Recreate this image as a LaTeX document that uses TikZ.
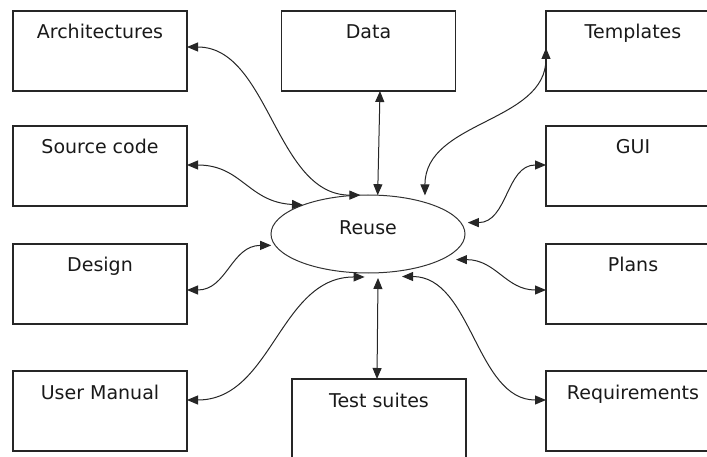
\documentclass[tikz,border=0pt]{standalone}
\usepackage{fontspec}
\setmainfont{DejaVu Sans}
\usetikzlibrary{arrows.meta,shapes.geometric}
\tikzset{
  itembox/.style={draw=black!85, line width=1.2pt, rectangle, minimum width=174pt, minimum height=80pt, inner sep=0pt, outer sep=0pt,
     label={[boxtext,anchor=base,yshift=-28pt]north:#1}},
  boxtext/.style={font=\fontsize{19pt}{22pt}\selectfont, text=black!90},
  dbl/.style={draw=black!85, line width=1pt, {Triangle[length=11pt,width=9pt]}-{Triangle[length=11pt,width=9pt]}},
}
\begin{document}
\begin{tikzpicture}[x=1pt,y=-1pt]
\useasboundingbox (0,0) rectangle (707,457);
\clip (0,0) rectangle (707,457);
% boxes
\node[itembox={Architectures}] (arch) at (100,51) {};
\node[itembox={Source code}] (src) at (100,166) {};
\node[itembox={Design}] (design) at (100,284) {};
\node[itembox={User Manual}] (manual) at (100,411) {};
\node[itembox={Data}] (data) at (368.5,51) {};
\node[itembox={Test suites}] (test) at (379,419) {};
\node[itembox={Templates}] (tmpl) at (633,51) {};
\node[itembox={GUI}] (gui) at (633,166) {};
\node[itembox={Plans}] (plans) at (633,284) {};
\node[itembox={Requirements}] (req) at (633,411) {};
% centre
\node[ellipse, draw=black!80, line width=1pt, minimum width=194pt, minimum height=78pt, inner sep=0pt, outer sep=0pt,
      label={[boxtext,anchor=base,yshift=6pt]center:Reuse}] (reuse) at (368,234) {};
% connectors
\draw[dbl] ([yshift=4pt]arch.east) .. controls +(82,0) and +(-85,0) .. (reuse.101);
\draw[dbl] ([yshift=1pt]src.east) .. controls +(55,0) and +(-55,-3) .. (reuse.156);
\draw[dbl] ([yshift=-6pt]design.east) .. controls +(40,0) and +(-40,0) .. ([xshift=-4pt]reuse.187);
\draw[dbl] ([yshift=11pt]manual.east) .. controls +(85,0) and +(-85,0) .. ([yshift=-4pt]reuse.265);
\draw[dbl] ([xshift=11.5pt]data.south) -- (reuse.76);
\draw[dbl] ([yshift=7pt]reuse.29) .. controls +(0,-75) and +(0,75) .. ([yshift=3pt]tmpl.west);
\draw[dbl] ([xshift=7pt]reuse.7) .. controls +(40,0) and +(-40,0) .. ([yshift=1pt]gui.west);
\draw[dbl] ([xshift=9pt,yshift=-3pt]reuse.-16) .. controls +(40,0) and +(-40,0) .. ([yshift=-6pt]plans.west);
\draw[dbl] ([xshift=10pt,yshift=-5pt]reuse.south) -- ([xshift=-2pt]test.north);
\draw[dbl] ([yshift=-6pt]reuse.-47) .. controls +(70,0) and +(-70,0) .. ([yshift=11pt]req.west);
\end{tikzpicture}
\end{document}
